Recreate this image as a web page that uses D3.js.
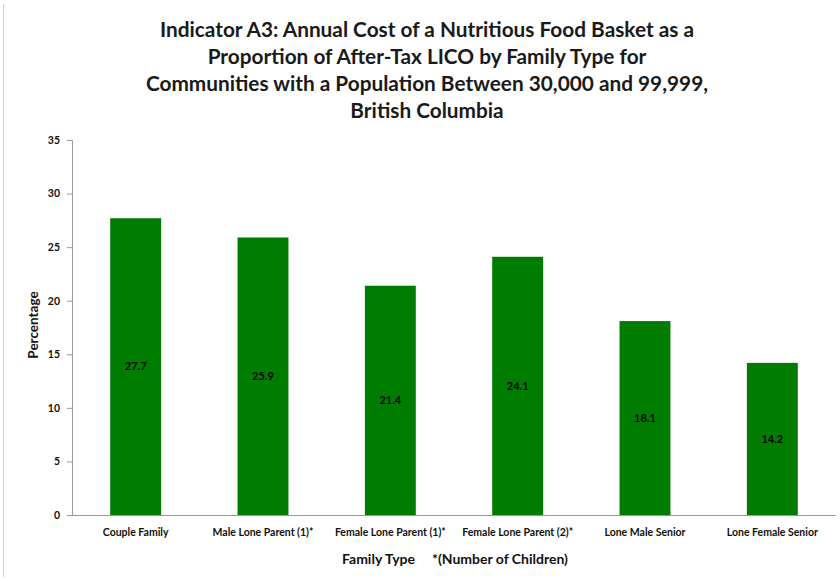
<!DOCTYPE html>
<html>
<head>
<meta charset="utf-8">
<script src="https://cdn.jsdelivr.net/npm/d3@7"></script>
<style>
  html, body { margin: 0; padding: 0; background: #fff; }
  svg { display: block; font-family: Lato, "Open Sans", sans-serif; }
</style>
</head>
<body>
<svg id="chart" width="840" height="581"></svg>
<script>
// Family types and food-basket cost as % of after-tax LICO
const categories = [
  "Couple Family",
  "Male Lone Parent (1)*",
  "Female Lone Parent (1)*",
  "Female Lone Parent (2)*",
  "Lone Male Senior",
  "Lone Female Senior"
];
const values = [27.7, 25.9, 21.4, 24.1, 18.1, 14.2];
const yTicks = [0, 5, 10, 15, 20, 25, 30, 35];
const titleLines = [
  "Indicator A3: Annual Cost of a Nutritious Food Basket as a",
  "Proportion of After-Tax LICO by Family Type for",
  "Communities with a Population Between 30,000 and 99,999,",
  "British Columbia"
];

const svg = d3.select("#chart");
const W = 840, H = 581;
const margin = { top: 140, right: 4, bottom: 66, left: 72 };

// outer frame line on the left
svg.append("line")
  .attr("x1", 3.5).attr("x2", 3.5).attr("y1", 4).attr("y2", H - 4)
  .attr("stroke", "#d0d0d0").attr("stroke-width", 1);

const x = d3.scaleBand()
  .domain(categories)
  .range([margin.left, W - margin.right])
  .paddingInner(0.6).paddingOuter(0.3);

const y = d3.scaleLinear().domain([0, 35]).range([H - margin.bottom, margin.top]);

// title
svg.append("g").selectAll("text").data(titleLines).join("text")
  .attr("x", 427).attr("y", (d, i) => 37 + i * 27)
  .attr("text-anchor", "middle")
  .attr("font-size", 20.8).attr("font-weight", "bold").attr("fill", "#1a1a1a")
  .text(d => d);

// bars
svg.append("g").selectAll("rect").data(values).join("rect")
  .attr("x", (d, i) => x(categories[i]))
  .attr("width", x.bandwidth())
  .attr("y", d => y(d))
  .attr("height", d => y(0) - y(d))
  .attr("fill", "#007d00");

// value labels centred in each bar
svg.append("g").selectAll("text").data(values).join("text")
  .attr("x", (d, i) => x(categories[i]) + x.bandwidth() / 2)
  .attr("y", d => (y(d) + y(0)) / 2)
  .attr("dy", "0.35em")
  .attr("text-anchor", "middle")
  .attr("font-size", 11).attr("font-weight", "bold").attr("fill", "#000")
  .text(d => d.toFixed(1));

// y axis
const yAxis = svg.append("g")
  .attr("transform", `translate(${margin.left},0)`)
  .call(d3.axisLeft(y).tickValues(yTicks).tickSize(5).tickPadding(7));
yAxis.select(".domain").attr("stroke", "#999");
yAxis.selectAll(".tick line").attr("stroke", "#999");
yAxis.selectAll(".tick text")
  .attr("font-size", 10.5).attr("font-weight", "bold").attr("fill", "#111")
  .attr("font-family", "Lato, sans-serif");

// x axis
const xAxis = svg.append("g")
  .attr("transform", `translate(0,${y(0)})`)
  .call(d3.axisBottom(x).tickSize(0).tickPadding(14));
xAxis.select(".domain").attr("stroke", "#999").attr("d", `M${margin.left},0.5H${W - margin.right}`);
xAxis.selectAll(".tick text")
  .attr("font-size", 10.5).attr("font-weight", "bold").attr("fill", "#111")
  .attr("font-family", "Lato, sans-serif");

// axis titles
svg.append("text")
  .attr("transform", "translate(33,325) rotate(-90)")
  .attr("text-anchor", "middle").attr("dy", "0.35em")
  .attr("font-size", 13.5).attr("font-weight", "bold").attr("fill", "#111")
  .text("Percentage");

svg.append("text")
  .attr("x", 455).attr("y", 564)
  .attr("text-anchor", "middle")
  .attr("font-size", 14).attr("font-weight", "bold").attr("fill", "#111")
  .attr("xml:space", "preserve")
  .text("Family Type     *(Number of Children)");
</script>
</body>
</html>
